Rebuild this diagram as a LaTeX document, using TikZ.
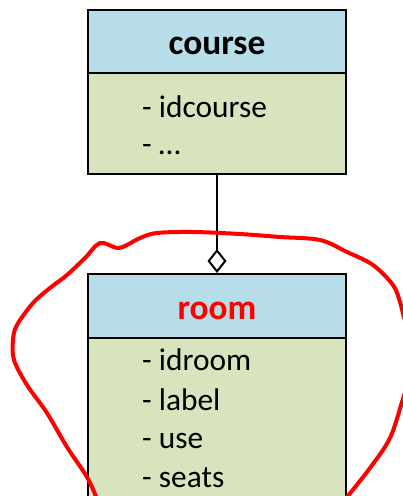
\documentclass[tikz,border=0pt]{standalone}
\usepackage{fontspec}
\setmainfont{Carlito}
\usetikzlibrary{arrows.meta}
\definecolor{hdr}{RGB}{183,221,232}
\definecolor{bdy}{RGB}{215,228,189}
\definecolor{pen}{RGB}{255,0,0}
\begin{document}
\begin{tikzpicture}[x=1bp,y=-1bp,
  hbox/.style={draw=black,line width=2bp,fill=hdr,rectangle,inner sep=0pt,minimum width=258bp},
  bbox/.style={draw=black,line width=2bp,fill=bdy,rectangle,inner sep=0pt,minimum width=258bp},
  ttl/.style={font=\bfseries\fontsize{35.5}{35.5}\selectfont,anchor=base,inner sep=0pt},
  attr/.style={font=\fontsize{31.5}{31.5}\selectfont,anchor=base west,inner sep=0pt},
  conn/.style={line width=2bp,-{Diamond[open,length=24bp,width=19bp,line width=2bp]}},
  loop/.style={draw=pen,line width=4bp,line cap=round,line join=round}]
\useasboundingbox (0,0) rectangle (402,496);
% course
\node[hbox,minimum height=63bp] (chead) at (217,41.5) {};
\node[bbox,minimum height=101bp] (cbody) at (217,123.5) {};
\node[ttl] (ctitle) at (217,55) {course};
\node[attr] (ca1) at (142,118) {- idcourse};
\node[attr] (ca2) at (142,155) {- …};
% room
\node[hbox,minimum height=64bp] (rhead) at (217,306) {};
\node[bbox,minimum height=200bp] (rbody) at (217,438) {};
\node[ttl,text=pen] (rtitle) at (217,319) {room};
\node[attr] (ra1) at (142,370) {- idroom};
\node[attr] (ra2) at (142,410) {- label};
\node[attr] (ra3) at (142,448) {- use};
\node[attr] (ra4) at (142,487) {- seats};
% connector
\draw[conn] (cbody.south) -- (rhead.north);
% red freehand loop
\draw[loop] plot[smooth,tension=0.55] coordinates {
 (97,499) (87,477) (67,447) (47,413) (27,385) (14,360) (13,340) (17,325) (33,303)
 (50,288) (67,275) (85,258) (100,243) (117,248) (127,245) (140,238) (157,233) (193,232)
 (240,234) (280,237) (320,240) (347,252) (373,265) (393,285) (400,302) (404,318)};
\draw[loop] plot[smooth,tension=0.55] coordinates {
 (405,392) (402,402) (390,438) (370,468) (347,497)};
\end{tikzpicture}
\end{document}
